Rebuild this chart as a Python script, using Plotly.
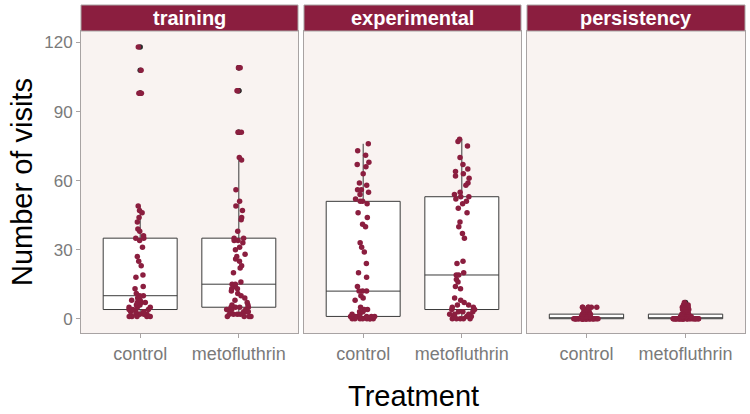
import plotly.graph_objects as go

# ---- data (number of visits per observation) ----
phases = ["training", "experimental", "persistency"]
treatments = ["control", "metofluthrin"]
y_ticks = [0, 30, 60, 90, 120]

training_control = [1, 1, 1, 1, 1, 2, 2, 2, 2, 3, 3, 3, 4, 4,
                    4, 5, 5, 5, 6, 6, 7, 7, 7, 8, 8, 9, 10,
                    10, 11, 13, 14, 18, 19, 23, 25, 27, 31, 34, 35, 35,
                    36, 38, 39, 42, 44, 46, 47, 49, 98, 98, 98, 108, 118]
training_metofluthrin = [1, 1, 1, 1, 2, 2, 2, 2, 3, 3, 3, 3, 4, 4, 4, 5, 5,
                         5, 5, 6, 6, 7, 8, 9, 10, 11, 12, 13, 13, 14, 14, 15,
                         15, 16, 20, 22, 23, 25, 26, 27, 28, 30, 31, 33, 34, 34, 35, 35,
                         38, 43, 44, 47, 49, 51, 56, 69, 70, 81, 81, 99, 99, 109, 109]
experimental_control = [0, 0, 0, 0, 0, 0, 0, 0, 1, 1, 1, 1, 1, 1, 1,
                        1, 2, 2, 3, 3, 4, 4, 5, 8, 9, 10, 12, 12, 12,
                        14, 18, 20, 24, 29, 31, 33, 40, 41, 44, 46, 50, 51, 51,
                        52, 54, 55, 56, 56, 58, 59, 63, 66, 67, 68, 71, 73, 76]
experimental_metofluthrin = [0, 0, 0, 0, 0, 1, 1, 1, 2, 2, 2, 3, 3, 3, 4,
                             4, 5, 5, 6, 6, 7, 8, 9, 13, 14, 16, 17, 19, 19,
                             20, 24, 25, 35, 37, 40, 42, 46, 48, 50, 51, 52, 53, 53,
                             54, 55, 58, 59, 61, 62, 63, 64, 65, 67, 70, 75, 77, 78]
persistency_control = [0] * 30 + [1] * 8 + [2] * 6 + [3] * 4 + [4] * 3 + [5] * 6
persistency_metofluthrin = [0] * 30 + [1] * 8 + [2] * 6 + [3] * 3 + [4] * 3 + [5] * 4 + [6] * 2 + [7]

values = {
    "training": (training_control, training_metofluthrin),
    "experimental": (experimental_control, experimental_metofluthrin),
    "persistency": (persistency_control, persistency_metofluthrin),
}

# ---- style ----
W, H = 750, 414
MAROON = "#8B1E3F"
PANEL_BG = "#F9F3F1"
BORDER = "#A8A3A3"
FONT = "Liberation Sans"
panel_px = [(81, 298), (304, 521), (527, 745)]
plot_top_px, plot_bot_px, strip_top_px = 31, 333, 5

def fx(px):
    return px / W

def fy(py):
    return (H - py) / H

fig = go.Figure()

for i, ph in enumerate(phases):
    ctrl, meto = values[ph]
    xs = [treatments[0]] * len(ctrl) + [treatments[1]] * len(meto)
    ys = list(ctrl) + list(meto)
    xa = "x" if i == 0 else f"x{i+1}"
    ya = "y" if i == 0 else f"y{i+1}"
    # boxplot with outliers (dark)
    fig.add_trace(go.Box(
        x=xs, y=ys, xaxis=xa, yaxis=ya,
        boxpoints="outliers", jitter=0, pointpos=0,
        quartilemethod="inclusive",
        width=0.75, whiskerwidth=0,
        fillcolor="white",
        line=dict(color="#3A3A3A", width=1),
        marker=dict(color="#2B2B2B", size=5.5),
        showlegend=False, hoverinfo="skip",
    ))
    # jittered points on top
    fig.add_trace(go.Box(
        x=xs, y=ys, xaxis=xa, yaxis=ya,
        boxpoints="all", jitter=0.35, pointpos=0,
        quartilemethod="inclusive",
        width=0.75, whiskerwidth=0,
        fillcolor="rgba(0,0,0,0)",
        line=dict(color="rgba(0,0,0,0)", width=0),
        marker=dict(color=MAROON, size=5.5, line=dict(width=0)),
        showlegend=False, hoverinfo="skip",
    ))

layout = dict(
    width=W, height=H,
    margin=dict(l=0, r=0, t=0, b=0),
    paper_bgcolor="white",
    plot_bgcolor=PANEL_BG,
    boxmode="overlay",
    font=dict(family=FONT, color="#7A7A7A"),
    showlegend=False,
)

ydom = [fy(plot_bot_px), fy(plot_top_px)]
for i in range(3):
    x0, x1 = panel_px[i]
    xk = "xaxis" if i == 0 else f"xaxis{i+1}"
    yk = "yaxis" if i == 0 else f"yaxis{i+1}"
    ya = "y" if i == 0 else f"y{i+1}"
    xa = "x" if i == 0 else f"x{i+1}"
    layout[xk] = dict(
        domain=[fx(x0), fx(x1)], anchor=ya,
        type="category", categoryorder="array", categoryarray=treatments,
        range=[-0.6, 1.6],
        showgrid=False, zeroline=False,
        showline=True, mirror=True, linecolor=BORDER, linewidth=1,
        ticks="outside", ticklen=4, tickcolor=BORDER,
        tickfont=dict(family=FONT, size=18, color="#7A7A7A"),
        automargin=False, fixedrange=True,
    )
    layout[yk] = dict(
        domain=ydom, anchor=xa,
        range=[-6.2, 125],
        tickvals=y_ticks,
        showgrid=False, zeroline=False,
        showline=True, mirror=True, linecolor=BORDER, linewidth=1,
        ticks="outside" if i == 0 else "", ticklen=4, tickcolor=BORDER,
        showticklabels=(i == 0),
        tickfont=dict(family=FONT, size=17, color="#7A7A7A"),
        automargin=False, fixedrange=True,
    )
    if i > 0:
        layout[yk]["matches"] = "y"

shapes = []
annotations = []
for i, ph in enumerate(phases):
    x0, x1 = panel_px[i]
    shapes.append(dict(
        type="rect", xref="paper", yref="paper",
        x0=fx(x0), x1=fx(x1), y0=fy(plot_top_px), y1=fy(strip_top_px),
        fillcolor=MAROON, line=dict(color=BORDER, width=1), layer="above",
    ))
    annotations.append(dict(
        text=ph, xref="paper", yref="paper",
        x=fx((x0 + x1) / 2), y=fy((plot_top_px + strip_top_px) / 2),
        xanchor="center", yanchor="middle", showarrow=False,
        font=dict(family=FONT, size=20, color="white", weight="bold"),
    ))

annotations.append(dict(
    text="Number of visits", xref="paper", yref="paper",
    x=fx(22), y=fy((plot_top_px + plot_bot_px) / 2),
    xanchor="center", yanchor="middle", textangle=-90, showarrow=False,
    font=dict(family=FONT, size=29, color="black"),
))
annotations.append(dict(
    text="Treatment", xref="paper", yref="paper",
    x=fx((panel_px[0][0] + panel_px[2][1]) / 2), y=fy(396),
    xanchor="center", yanchor="middle", showarrow=False,
    font=dict(family=FONT, size=29, color="black"),
))

layout["shapes"] = shapes
layout["annotations"] = annotations
fig.update_layout(**layout)

fig.write_html(
    "out.html",
    config={"displayModeBar": False, "staticPlot": True},
    post_script="document.body.style.margin='0';document.body.style.padding='0';",
)
